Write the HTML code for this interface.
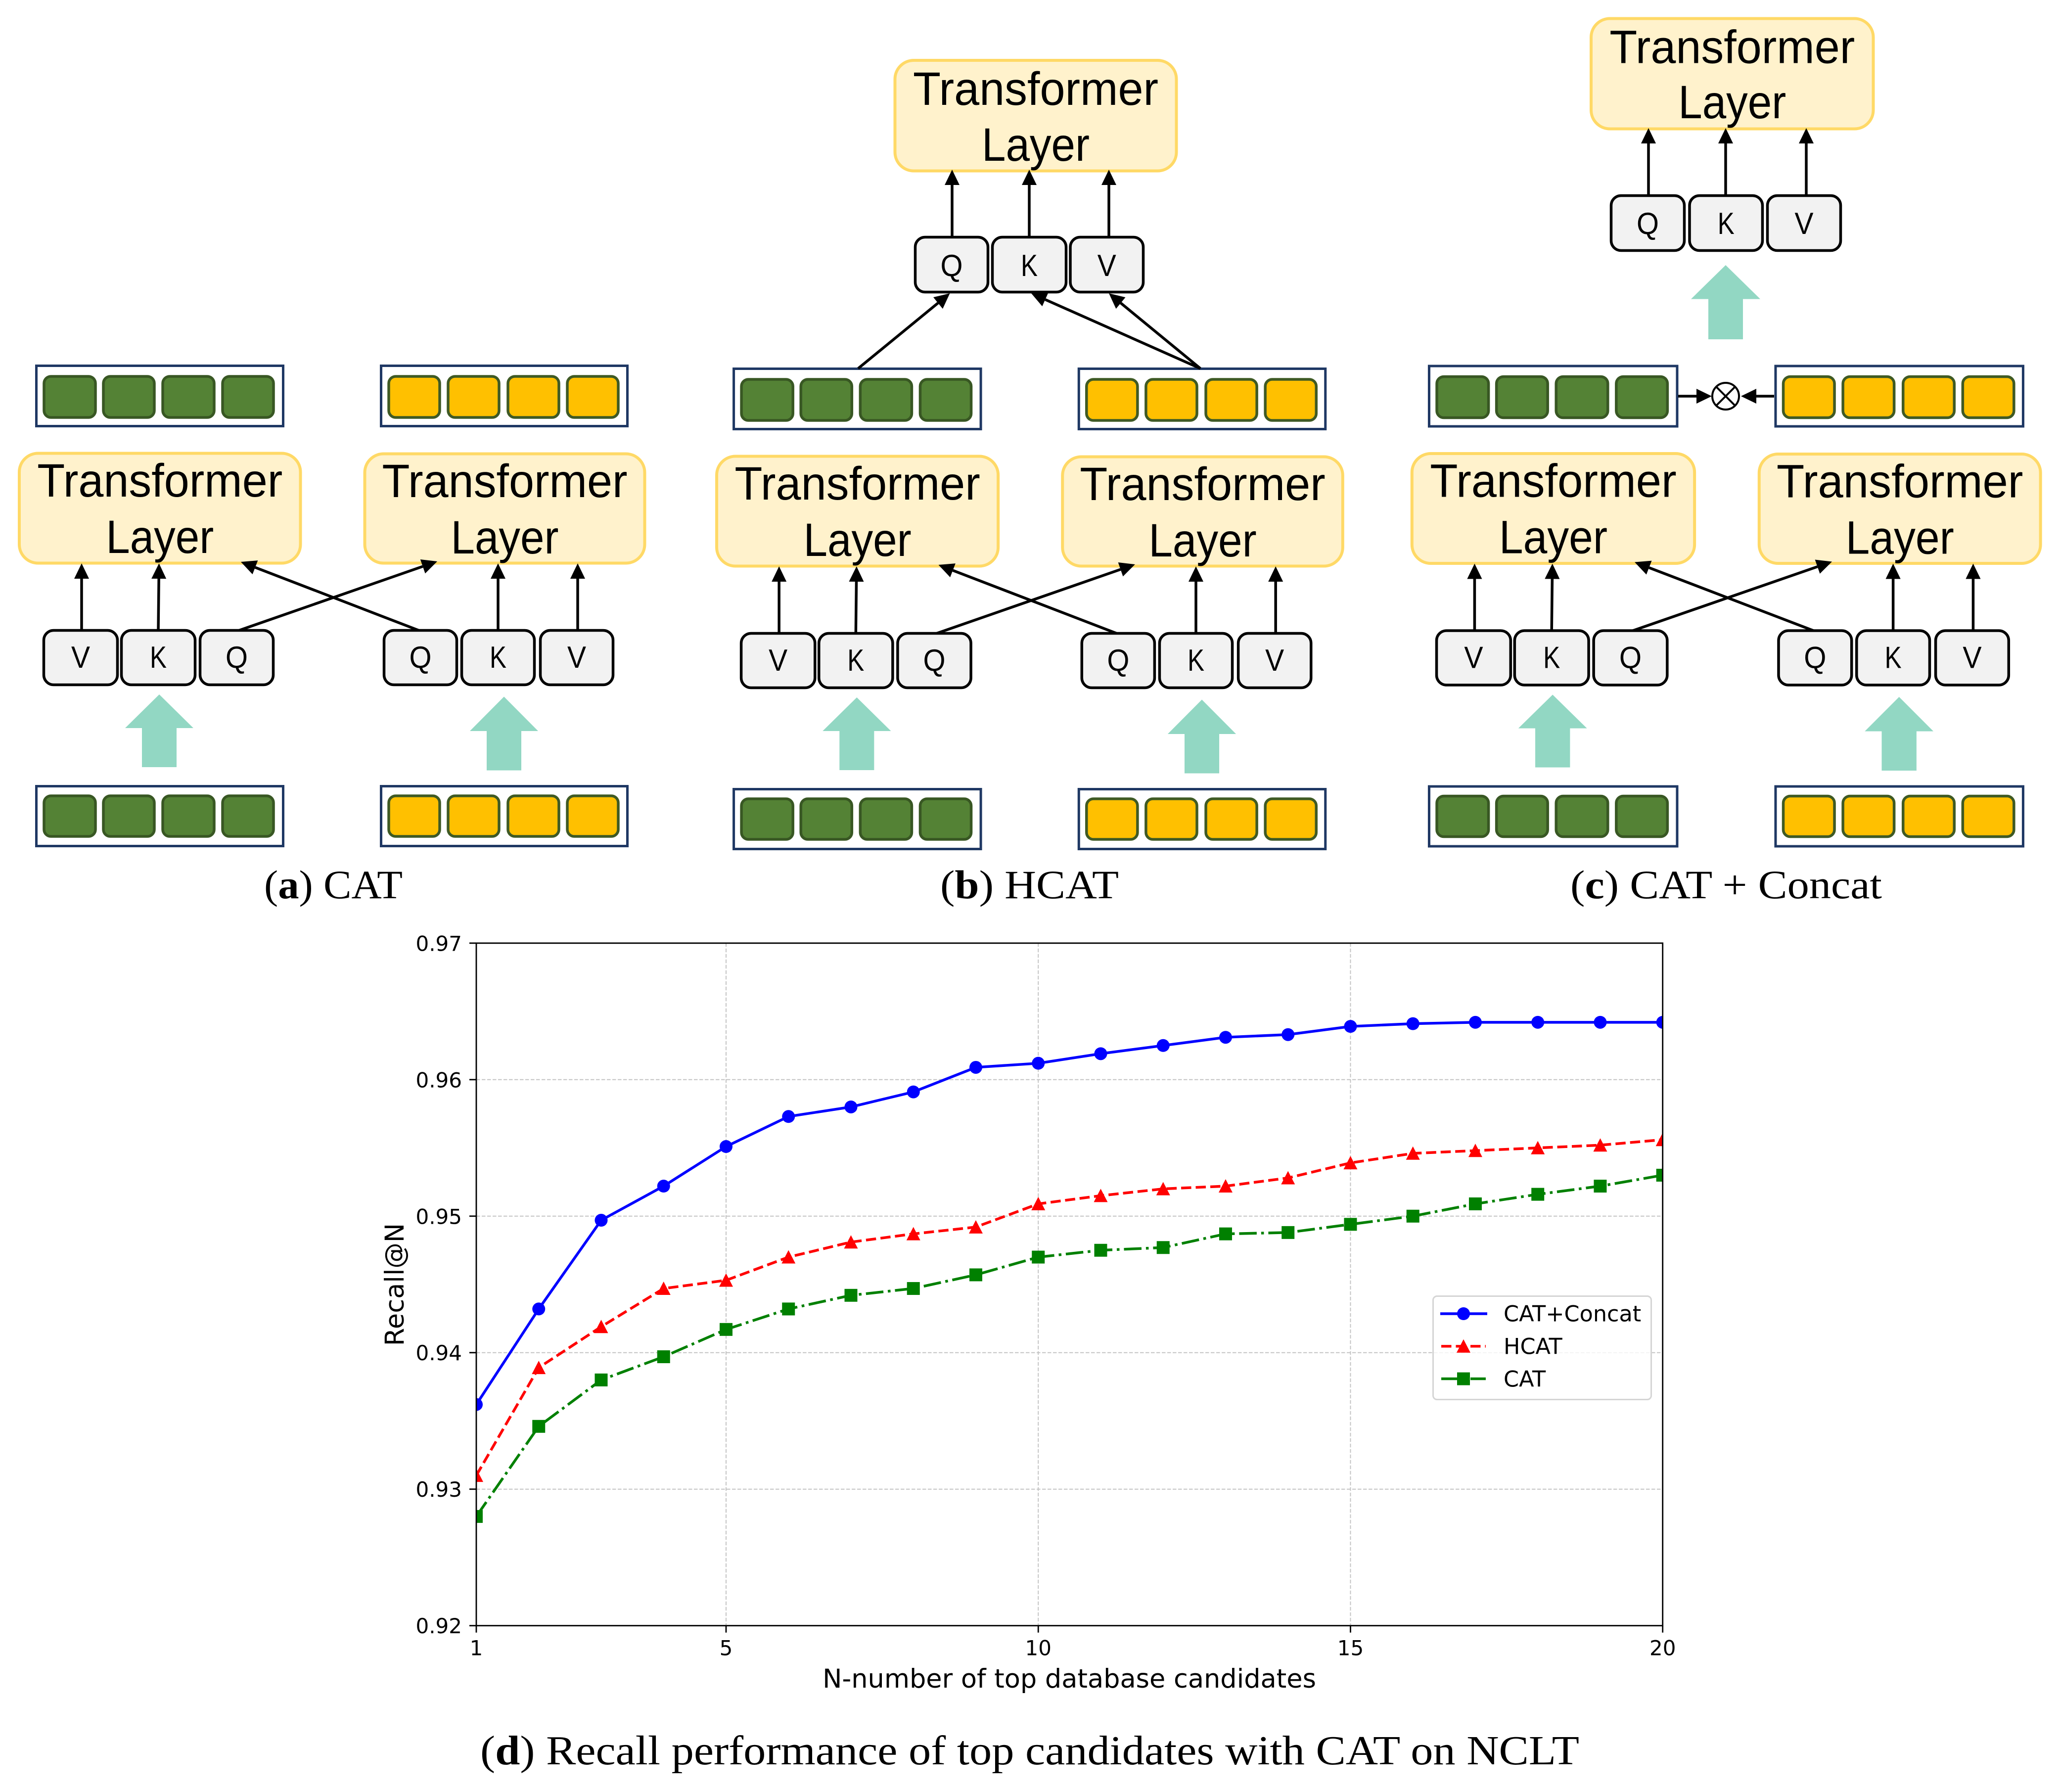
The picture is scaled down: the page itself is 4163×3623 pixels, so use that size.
<!DOCTYPE html>
<html lang="en">
<head>
<meta charset="utf-8">
<title>CAT architectures and recall chart</title>
<style>
html,body{margin:0;padding:0;background:#fff;}
svg{display:block;}
.sans{font-family:"Liberation Sans",sans-serif;}
.serif{font-family:"Liberation Serif",serif;}
.dv{font-family:"DejaVu Sans",sans-serif;}
</style>
</head>
<body>
<svg id="fig" xmlns="http://www.w3.org/2000/svg" width="4163" height="3623" viewBox="0 0 4163 3623">
  <rect x="0" y="0" width="4163" height="3623" fill="#ffffff"/>
  <defs><clipPath id="plot-clip"><rect x="963" y="1907" width="2399" height="1380"/></clipPath></defs>
  <g id="diagram"></g>

  <text class="serif" x="534" y="1816" font-size="82" fill="#000" textLength="280" lengthAdjust="spacingAndGlyphs">(<tspan font-weight="bold">a</tspan>) CAT</text>
  <text class="serif" x="1901" y="1816" font-size="82" fill="#000" textLength="361" lengthAdjust="spacingAndGlyphs">(<tspan font-weight="bold">b</tspan>) HCAT</text>
  <text class="serif" x="3175" y="1816" font-size="82" fill="#000" textLength="630" lengthAdjust="spacingAndGlyphs">(<tspan font-weight="bold">c</tspan>) CAT + Concat</text>
  <text class="serif" x="971" y="3567" font-size="84" fill="#000" textLength="2222" lengthAdjust="spacingAndGlyphs">(<tspan font-weight="bold">d</tspan>) Recall performance of top candidates with CAT on NCLT</text>

  <g id="chart"></g>
</svg>

<script>
// ---------- chart data ----------
const nValues = [1,2,3,4,5,6,7,8,9,10,11,12,13,14,15,16,17,18,19,20];
const catConcatRecall = [0.9362,0.9432,0.9497,0.9522,0.9551,0.9573,0.9580,0.9591,0.9609,0.9612,0.9619,0.9625,0.9631,0.9633,0.9639,0.9641,0.9642,0.9642,0.9642,0.9642];
const hcatRecall = [0.9310,0.9389,0.9419,0.9447,0.9453,0.9470,0.9481,0.9487,0.9492,0.9509,0.9515,0.9520,0.9522,0.9528,0.9539,0.9546,0.9548,0.9550,0.9552,0.9556];
const catRecall = [0.9280,0.9346,0.9380,0.9397,0.9417,0.9432,0.9442,0.9447,0.9457,0.9470,0.9475,0.9477,0.9487,0.9488,0.9494,0.9500,0.9509,0.9516,0.9522,0.9530];
const xTicks = [1,5,10,15,20];
const yTicks = [0.92,0.93,0.94,0.95,0.96,0.97];
const yTickLabels = ['0.92','0.93','0.94','0.95','0.96','0.97'];

const NS = 'http://www.w3.org/2000/svg';
function mk(tag, parent, attrs, name) {
  const el = document.createElementNS(NS, tag);
  for (const k in attrs) el.setAttribute(k, attrs[k]);
  
  
  parent.appendChild(el);
  return el;
}

// ---------- diagram helpers ----------
const diagram = document.getElementById('diagram');

function featureBar(p, x0, x1, y0, y1, cy0, cy1, cells, fill, name) {
  const g = mk('g', p, {}, name);
  mk('rect', g, {x:x0+2.5, y:y0+2.5, width:x1-x0-5, height:y1-y0-5, fill:'#fff', stroke:'#1f3864', 'stroke-width':5}, 'feature-bar-frame');
  cells.forEach(function(c){
    mk('rect', g, {x:c[0]+2, y:cy0+2, width:c[1]-c[0]-4, height:cy1-cy0-4, rx:14, ry:14, fill:fill, stroke:fill === '#ffc000' ? '#3f5a24' : '#385723', 'stroke-width':5.5}, 'feature-cell');
  });
}

function transformerBox(p, x0, x1, y0, y1, baseT, baseL, name) {
  const g = mk('g', p, {}, name);
  mk('rect', g, {x:x0+1.5, y:y0+1.5, width:x1-x0-3, height:y1-y0-3, rx:38, ry:38, fill:'#fff2cc', stroke:'#ffd966', 'stroke-width':6}, 'transformer-box');
  const cx = (x0+x1)/2;
  const t1 = mk('text', g, {x:cx, y:baseT, 'text-anchor':'middle', 'font-size':95, fill:'#000', class:'sans', textLength:496, lengthAdjust:'spacingAndGlyphs'}, 'transformer-label');
  t1.textContent = 'Transformer';
  const t2 = mk('text', g, {x:cx, y:baseL, 'text-anchor':'middle', 'font-size':95, fill:'#000', class:'sans', textLength:218, lengthAdjust:'spacingAndGlyphs'}, 'layer-label');
  t2.textContent = 'Layer';
}

function keyBox(p, x0, x1, y0, y1, base, letter) {
  const g = mk('g', p, {}, 'key-box-' + letter.toLowerCase());
  mk('rect', g, {x:x0+1.5, y:y0+1.5, width:x1-x0-3, height:y1-y0-3, rx:20, ry:20, fill:'#f2f2f2', stroke:'#000', 'stroke-width':5.5}, 'key-box-frame');
  const widths = {Q:45, K:34, V:38};
  const t = mk('text', g, {x:(x0+x1)/2, y:base, 'text-anchor':'middle', 'font-size':62, fill:'#000', class:'sans', textLength:widths[letter], lengthAdjust:'spacingAndGlyphs'}, 'key-letter');
  t.textContent = letter;
}

function arrow(p, x1, y1, x2, y2, name) {
  const L = 31, W = 15;
  const dx = x2-x1, dy = y2-y1, d = Math.hypot(dx,dy), ux = dx/d, uy = dy/d;
  const bx = x2-ux*L, by = y2-uy*L;
  const g = mk('g', p, {}, name);
  mk('line', g, {x1:x1, y1:y1, x2:bx, y2:by, stroke:'#000', 'stroke-width':5.5}, 'arrow-shaft');
  mk('polygon', g, {points:[x2,y2,bx-uy*W,by+ux*W,bx+uy*W,by-ux*W].join(' '), fill:'#000'}, 'arrow-head');
}

function blockArrow(p, cx, tip, base, bottom, hw, sw, name) {
  const pts = [cx,tip, cx+hw,base, cx+sw,base, cx+sw,bottom, cx-sw,bottom, cx-sw,base, cx-hw,base];
  mk('polygon', p, {points:pts.join(' '), fill:'#92d7c3'}, name);
}

const greenCells = [[87,195],[207,314],[327,435],[448,555]];
const yellowCells = [[784,891],[904,1011],[1025,1132],[1145,1252]];

function lowerPanel(tx, ty, sx, name) {
  const g = mk('g', diagram, {transform:'translate(' + tx + ' ' + ty + ') scale(' + sx + ' 1)'}, name);
  // intermediate feature bars
  featureBar(g, 71, 575, 737, 864, 759, 846, greenCells, '#548235', 'output-features-left');
  featureBar(g, 768, 1271, 737, 864, 759, 846, yellowCells, '#ffc000', 'output-features-right');
  // transformer layers
  transformerBox(g, 37.5, 609, 915, 1140, 1004, 1118, 'transformer-layer-left');
  transformerBox(g, 736, 1305, 916, 1140, 1005, 1119, 'transformer-layer-right');
  // arrows
  arrow(g, 165, 1275, 165, 1139, 'arrow-v-left');
  arrow(g, 320, 1275, 321.5, 1139, 'arrow-k-left');
  arrow(g, 482, 1275, 884, 1135, 'arrow-q-cross-left');
  arrow(g, 848, 1275, 487, 1136, 'arrow-q-cross-right');
  arrow(g, 1007, 1275, 1007, 1139, 'arrow-k-right');
  arrow(g, 1168, 1275, 1168, 1139, 'arrow-v-right');
  // Q K V
  keyBox(g, 87, 239, 1273, 1386, 1350, 'V');
  keyBox(g, 244, 396, 1273, 1386, 1350, 'K');
  keyBox(g, 403, 554, 1273, 1386, 1350, 'Q');
  keyBox(g, 775, 925, 1273, 1386, 1350, 'Q');
  keyBox(g, 932, 1082, 1273, 1386, 1350, 'K');
  keyBox(g, 1091, 1241, 1273, 1386, 1350, 'V');
  // block arrows
  blockArrow(g, 322, 1404, 1472, 1551, 69, 35, 'block-arrow-left');
  blockArrow(g, 1019, 1408.5, 1478, 1557.5, 69, 35, 'block-arrow-right');
  // input bars
  featureBar(g, 71, 575, 1587, 1713, 1607, 1693, greenCells, '#548235', 'input-features-left');
  featureBar(g, 768, 1271, 1587, 1713, 1607, 1693, yellowCells, '#ffc000', 'input-features-right');
  return g;
}

// Panel a
lowerPanel(0, 0, 1, 'panel-cat');

// Panel b
const panelB = lowerPanel(1410, 6, 1.001, 'panel-hcat');
const panelBTop = mk('g', diagram, {}, 'panel-hcat-top');
transformerBox(panelBTop, 1808, 2380, 120.5, 347, 212, 325, 'transformer-layer-top');
arrow(panelBTop, 1925, 480, 1925, 343, 'arrow-q-top');
arrow(panelBTop, 2081, 480, 2081, 343, 'arrow-k-top');
arrow(panelBTop, 2242, 480, 2242, 343, 'arrow-v-top');
keyBox(panelBTop, 1849, 1999, 478, 592, 558, 'Q');
keyBox(panelBTop, 2005, 2157, 478, 592, 558, 'K');
keyBox(panelBTop, 2162.5, 2313, 478, 592, 558, 'V');
arrow(panelBTop, 1735, 745, 1920.5, 593, 'arrow-to-q');
arrow(panelBTop, 2427, 745, 2085, 593, 'arrow-to-k');
arrow(panelBTop, 2427, 745, 2242, 593, 'arrow-to-v');

// Panel c
const panelC = lowerPanel(2815.6, 0.5, 1.005, 'panel-cat-concat');
const panelCTop = mk('g', diagram, {}, 'panel-cat-concat-top');
transformerBox(panelCTop, 3215.5, 3789, 36, 262, 127.5, 239, 'transformer-layer-top');
arrow(panelCTop, 3333, 396, 3333, 259, 'arrow-q-top');
arrow(panelCTop, 3489, 396, 3489, 259, 'arrow-k-top');
arrow(panelCTop, 3652, 396, 3652, 259, 'arrow-v-top');
keyBox(panelCTop, 3256, 3407, 394, 508, 473, 'Q');
keyBox(panelCTop, 3414.5, 3565, 394, 508, 473, 'K');
keyBox(panelCTop, 3572, 3723, 394, 508, 473, 'V');
blockArrow(panelCTop, 3489, 536, 604.6, 686, 70, 35, 'block-arrow-concat');
arrow(panelCTop, 3393, 801, 3461, 801, 'arrow-concat-left');
arrow(panelCTop, 3587, 801, 3520, 801, 'arrow-concat-right');
const ot = mk('g', panelCTop, {}, 'concat-operator');
mk('circle', ot, {cx:3489, cy:801, r:27, fill:'#fff', stroke:'#000', 'stroke-width':4}, 'concat-circle');
mk('line', ot, {x1:3470, y1:782, x2:3508, y2:820, stroke:'#000', 'stroke-width':4}, 'concat-cross-a');
mk('line', ot, {x1:3508, y1:782, x2:3470, y2:820, stroke:'#000', 'stroke-width':4}, 'concat-cross-b');

// ---------- chart ----------
const chart = document.getElementById('chart');
const plot = {left:963, right:3361.7, top:1906.8, bottom:3286.7};
const xDomain = [1, 20];
const yDomain = [0.92, 0.97];
function xScale(v){ return plot.left + (v - xDomain[0]) / (xDomain[1] - xDomain[0]) * (plot.right - plot.left); }
function yScale(v){ return plot.bottom - (v - yDomain[0]) / (yDomain[1] - yDomain[0]) * (plot.bottom - plot.top); }

const gridG = mk('g', chart, {}, 'grid');
xTicks.forEach(function(t){
  mk('line', gridG, {x1:xScale(t), x2:xScale(t), y1:plot.top, y2:plot.bottom, stroke:'#c4c4c4', 'stroke-width':2, 'stroke-dasharray':'7.5 3.5'}, 'grid-line-x');
});
yTicks.forEach(function(t){
  mk('line', gridG, {x1:plot.left, x2:plot.right, y1:yScale(t), y2:yScale(t), stroke:'#c4c4c4', 'stroke-width':2, 'stroke-dasharray':'7.5 3.5'}, 'grid-line-y');
});

function marker(p, kind, x, y, color, name) {
  const r = 13;
  if (kind === 'circle') mk('circle', p, {cx:x, cy:y, r:r, fill:color}, name);
  else if (kind === 'square') mk('rect', p, {x:x-r, y:y-r, width:2*r, height:2*r, fill:color}, name);
  else mk('polygon', p, {points:[x,y-r-1,x+r+1,y+r,x-r-1,y+r].join(' '), fill:color}, name);
}

const seriesG = mk('g', chart, {'clip-path':'url(#plot-clip)'}, 'series');
function drawSeries(values, color, dash, kind, name) {
  const g = mk('g', seriesG, {}, name);
  const pts = values.map(function(v,i){ return xScale(nValues[i]) + ',' + yScale(v); }).join(' ');
  const attrs = {points:pts, fill:'none', stroke:color, 'stroke-width':5.4, 'stroke-linejoin':'round'};
  if (dash) attrs['stroke-dasharray'] = dash;
  mk('polyline', g, attrs, name + '-line');
  values.forEach(function(v,i){
    marker(g, kind, xScale(nValues[i]), yScale(v), color, name + '-point');
  });
}
const dashed = '20.5 9';
const dashDot = '35.5 9 5.5 9';
drawSeries(catRecall, '#008000', dashDot, 'square', 'series-cat');
drawSeries(hcatRecall, '#ff0000', dashed, 'triangle', 'series-hcat');
drawSeries(catConcatRecall, '#0000ff', null, 'circle', 'series-cat-concat');

// axes
const axG = mk('g', chart, {}, 'axes');
mk('rect', axG, {x:plot.left, y:plot.top, width:plot.right-plot.left, height:plot.bottom-plot.top, fill:'none', stroke:'#000', 'stroke-width':2.8}, 'plot-frame');
xTicks.forEach(function(t){
  mk('line', axG, {x1:xScale(t), x2:xScale(t), y1:plot.bottom, y2:plot.bottom+14, stroke:'#000', 'stroke-width':2.8}, 'x-tick');
  const lb = mk('text', axG, {x:xScale(t), y:3346.5, 'text-anchor':'middle', 'font-size':42, fill:'#000', class:'dv'}, 'x-tick-label');
  lb.textContent = String(t);
});
yTicks.forEach(function(t,i){
  mk('line', axG, {x1:plot.left-14, x2:plot.left, y1:yScale(t), y2:yScale(t), stroke:'#000', 'stroke-width':2.8}, 'y-tick');
  const lb = mk('text', axG, {x:934, y:yScale(t)+15.5, 'text-anchor':'end', 'font-size':42, fill:'#000', class:'dv'}, 'y-tick-label');
  lb.textContent = yTickLabels[i];
});
const xt = mk('text', axG, {x:2162, y:3412, 'text-anchor':'middle', 'font-size':52.5, fill:'#000', class:'dv'}, 'x-axis-title');
xt.textContent = 'N-number of top database candidates';
const yt = mk('text', axG, {x:816, y:2597, 'text-anchor':'middle', 'font-size':52.5, fill:'#000', class:'dv', transform:'rotate(-90 816 2597)'}, 'y-axis-title');
yt.textContent = 'Recall@N';

// legend
const lg = mk('g', chart, {}, 'legend');
mk('rect', lg, {x:2897.5, y:2620.5, width:441, height:209, rx:8, ry:8, fill:'#fff', 'fill-opacity':0.8, stroke:'#d5d5d5', 'stroke-width':3}, 'legend-box');
const legendLabels = ['CAT+Concat','HCAT','CAT'];
const legendColors = ['#0000ff','#ff0000','#008000'];
const legendDash = [null, dashed, dashDot];
const legendMarkers = ['circle','triangle','square'];
const legendNames = ['legend-entry-cat-concat','legend-entry-hcat','legend-entry-cat'];
legendLabels.forEach(function(label,i){
  const y = 2656 + i*65.8;
  const e = mk('g', lg, {}, legendNames[i]);
  const a = {x1:2912, x2:3007, y1:y, y2:y, stroke:legendColors[i], 'stroke-width':5.4};
  if (legendDash[i]) { a['stroke-dasharray'] = legendDash[i]; a.x1 = 2914; a.x2 = 3004; }
  mk('line', e, a, 'legend-line');
  marker(e, legendMarkers[i], 2959, y, legendColors[i], 'legend-marker');
  const t = mk('text', e, {x:3040, y:y+15.7, 'font-size':44.5, fill:'#000', class:'dv'}, 'legend-label');
  t.textContent = label;
});
</script>
</body>
</html>
